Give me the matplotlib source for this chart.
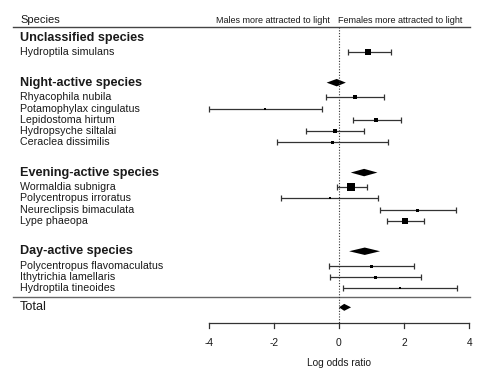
import matplotlib
matplotlib.use("Agg")
import matplotlib.pyplot as plt
from matplotlib.patches import Polygon
import matplotlib.transforms as mtransforms

plt.rcParams['font.family'] = ['Liberation Sans', 'DejaVu Sans']

# ---------------- data ----------------
groups = ["Unclassified species", "Night-active species",
          "Evening-active species", "Day-active species"]

species = [
    ["Hydroptila simulans"],
    ["Rhyacophila nubila", "Potamophylax cingulatus", "Lepidostoma hirtum",
     "Hydropsyche siltalai", "Ceraclea dissimilis"],
    ["Wormaldia subnigra", "Polycentropus irroratus", "Neureclipsis bimaculata",
     "Lype phaeopa"],
    ["Polycentropus flavomaculatus", "Ithytrichia lamellaris",
     "Hydroptila tineoides"],
]
est = [[0.90],
       [0.48, -2.27, 1.14, -0.13, -0.20],
       [0.38, -0.29, 2.40, 2.04],
       [0.99, 1.12, 1.86]]
lo = [[0.27],
      [-0.39, -4.00, 0.42, -1.02, -1.89],
      [-0.07, -1.78, 1.25, 1.48],
      [-0.30, -0.28, 0.11]]
hi = [[1.59],
      [1.37, -0.52, 1.89, 0.78, 1.49],
      [0.86, 1.21, 3.59, 2.61],
      [2.30, 2.53, 3.63]]
weights = [[5.3],
           [4.7, 2.0, 5.0, 4.0, 3.0],
           [7.3, 2.7, 3.0, 6.0],
           [3.0, 3.0, 2.7]]

group_est = [None, -0.07, 0.77, 0.79]
group_lo = [None, -0.38, 0.36, 0.31]
group_hi = [None, 0.21, 1.18, 1.26]

total_est, total_lo, total_hi = 0.16, 0.00, 0.37

xticks = [-4, -2, 0, 2, 4]
xlabel = "Log odds ratio"
left_note = "Males more attracted to light"
right_note = "Females more attracted to light"

# ---------------- layout ----------------
W, H = 483, 376
fig = plt.figure(figsize=(W / 100, H / 100), dpi=100)
ax = fig.add_axes([0, 0, 1, 1])

px_per_unit = 260.7 / 8.0
x0_px = 339.0
xl = (0 - x0_px) / px_per_unit
xr = (W - x0_px) / px_per_unit
ax.set_xlim(xl, xr)

row_px = 11.24
row0_px = 52.3
ax.set_ylim((H - row0_px) / row_px, (0 - row0_px) / row_px)

trans = mtransforms.blended_transform_factory(ax.transAxes, ax.transData)
text_x = 20 / W
line_l, line_r = 13 / W, 470 / W
dark = '#1a1a1a'
linec = '#333333'

row = 0
last = 0
for g, name in enumerate(groups):
    hy = row - 1.3
    ax.text(text_x, hy, name, transform=trans, fontsize=9.1, fontweight='bold',
            va='center', ha='left', color=dark)
    if group_est[g] is not None:
        d = 0.33
        poly = Polygon([[group_lo[g], hy], [group_est[g], hy - d],
                        [group_hi[g], hy], [group_est[g], hy + d]],
                       closed=True, color='black', lw=0)
        ax.add_patch(poly)
    for i, sp in enumerate(species[g]):
        y = row + i
        ax.text(text_x, y, sp, transform=trans, fontsize=7.7, va='center',
                ha='left', color=dark)
        ax.errorbar([est[g][i]], [y],
                    xerr=[[est[g][i] - lo[g][i]], [hi[g][i] - est[g][i]]],
                    fmt='none', ecolor=linec, elinewidth=0.9, capsize=2.2,
                    capthick=0.9)
        ax.plot([est[g][i]], [y], marker='s', color='black',
                markersize=weights[g][i] * 0.72, markeredgewidth=0, ls='none')
        last = y
    row = last + 4

# header
top_y = -2.28
ax.text(text_x, -2.87, "Species", transform=trans, fontsize=8.0,
        va='center', ha='left', color=dark)
ax.text(-0.27, -2.87, left_note, fontsize=6.5, va='center', ha='right', color=dark)
ax.text(-0.04, -2.87, right_note, fontsize=6.5, va='center', ha='left', color=dark)
ax.plot([line_l, line_r], [top_y, top_y], transform=trans, color='#444444', lw=1.0)

# total
line_y = last + 0.74
ax.plot([line_l, line_r], [line_y, line_y], transform=trans, color='#666666', lw=1.0)
ty = last + 1.69
ax.text(text_x, ty, "Total", transform=trans, fontsize=9.2, va='center',
        ha='left', color=dark)
d = 0.31
ax.add_patch(Polygon([[total_lo, ty], [total_est, ty - d], [total_hi, ty],
                      [total_est, ty + d]], closed=True, color='black', lw=0))

# zero line
axis_y = last + 3.11
ax.plot([0, 0], [top_y, axis_y], color='#333333', lw=0.8, ls=(0, (1, 1.5)))

# x axis
ax.plot([xticks[0], xticks[-1]], [axis_y, axis_y], color='#333333', lw=0.9)
for t in xticks:
    ax.plot([t, t], [axis_y, axis_y + 0.45], color='#333333', lw=0.9)
    ax.text(t, axis_y + 1.72, f"{t}", fontsize=7.4,
            ha='center', va='center', color=dark)
ax.text(0, axis_y + 3.56, xlabel, fontsize=7.3, ha='center', va='center', color=dark)

ax.axis('off')
fig.savefig("out.png", dpi=100)
